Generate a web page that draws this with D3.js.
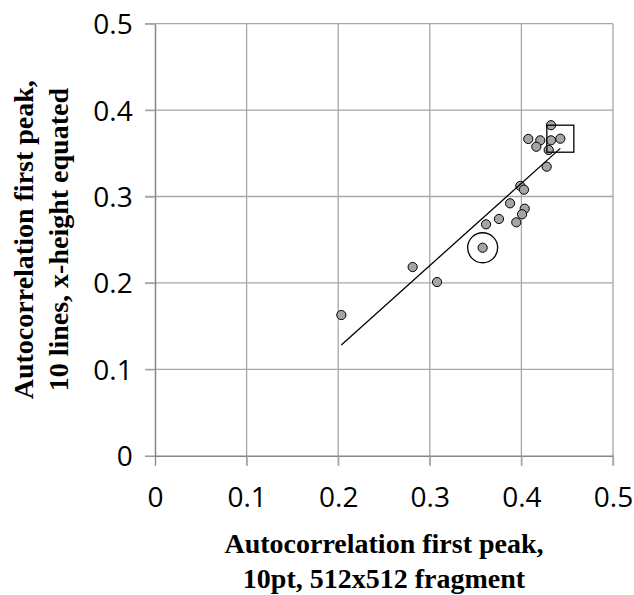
<!DOCTYPE html>
<html>
<head>
<meta charset="utf-8">
<script src="https://cdn.jsdelivr.net/npm/d3@7"></script>
<style>
  html, body { margin: 0; padding: 0; background: #fff; }
  svg { display: block; }
</style>
</head>
<body>
<svg id="chart" width="634" height="595"></svg>
<script>
// ---- data ----
const xValues = [0.4323, 0.4075, 0.4206, 0.4163, 0.4323, 0.4425, 0.4298, 0.4276, 0.3988, 0.4028,
                 0.3876, 0.4036, 0.4007, 0.3755, 0.3944, 0.3614, 0.3577, 0.2813, 0.3079, 0.2034];
const yValues = [0.3825, 0.3666, 0.3650, 0.3576, 0.3650, 0.3669, 0.3538, 0.3345, 0.3122, 0.3079,
                 0.2921, 0.2859, 0.2794, 0.2740, 0.2701, 0.2678, 0.2407, 0.2184, 0.2010, 0.1628];
const xTicks = [0, 0.1, 0.2, 0.3, 0.4, 0.5];
const yTicks = [0, 0.1, 0.2, 0.3, 0.4, 0.5];
const xTickLabels = ["0", "0.1", "0.2", "0.3", "0.4", "0.5"];
const yTickLabels = ["0", "0.1", "0.2", "0.3", "0.4", "0.5"];
const xTitle = ["Autocorrelation first peak,", "10pt, 512x512 fragment"];
const yTitle = ["Autocorrelation first peak,", "10 lines, x-height equated"];
const circledIndex = 16;   // point highlighted by a ring
const squaredIndex = 5;    // point highlighted by a square

// ---- layout ----
const svg = d3.select("#chart");
const pLeft = 155, pRight = 613, pTop = 23.7, pBottom = 455.7;
const x = d3.scaleLinear().domain([0, 0.5]).range([pLeft, pRight]);
const y = d3.scaleLinear().domain([0, 0.5]).range([pBottom, pTop]);

const gridColor = "#a6a6a6", axisColor = "#868686";
const tickFont = "'Open Sans', sans-serif";
const titleFont = "'Liberation Serif', 'Times New Roman', serif";

// gridlines
svg.append("g").selectAll("line").data(xTicks.filter(d => d > 0)).join("line")
  .attr("x1", d => x(d)).attr("x2", d => x(d))
  .attr("y1", pTop).attr("y2", pBottom + 10)
  .attr("stroke", gridColor).attr("stroke-width", 1.3);
svg.append("g").selectAll("line").data(yTicks.filter(d => d > 0)).join("line")
  .attr("x1", pLeft - 10).attr("x2", pRight)
  .attr("y1", d => y(d)).attr("y2", d => y(d))
  .attr("stroke", gridColor).attr("stroke-width", 1.3);

// axes
const xAxis = d3.axisBottom(x).tickValues(xTicks).tickSize(10).tickSizeOuter(0)
  .tickFormat((d, i) => xTickLabels[i]);
const gx = svg.append("g").attr("transform", `translate(0,${pBottom})`).call(xAxis);
gx.select(".domain").attr("stroke", axisColor).attr("stroke-width", 1.5);
gx.selectAll(".tick line").attr("stroke", (d) => d === 0 ? axisColor : gridColor).attr("stroke-width", 1.3);
gx.selectAll(".tick text").attr("y", 51).attr("dy", 0)
  .style("font-family", tickFont).style("font-size", "28px").attr("fill", "#000");

const yAxis = d3.axisLeft(y).tickValues(yTicks).tickSize(10).tickPadding(12.3).tickSizeOuter(0)
  .tickFormat((d, i) => yTickLabels[i]);
const gy = svg.append("g").attr("transform", `translate(${pLeft},0)`).call(yAxis);
gy.select(".domain").attr("stroke", axisColor).attr("stroke-width", 1.5);
gy.selectAll(".tick line").attr("stroke", (d) => d === 0 ? axisColor : gridColor).attr("stroke-width", 1.3);
gy.selectAll(".tick text").attr("dy", "0.36em")
  .style("font-family", tickFont).style("font-size", "28px").attr("fill", "#000");

// points
const pts = xValues.map((v, i) => ({ x: v, y: yValues[i] }));
svg.append("g").selectAll("circle").data(pts).join("circle")
  .attr("cx", d => x(d.x)).attr("cy", d => y(d.y)).attr("r", 4.6)
  .attr("fill", "#a5a5a5").attr("stroke", "#000").attr("stroke-width", 1);

// linear trendline (least squares)
const mx = d3.mean(xValues), my = d3.mean(yValues);
const slope = d3.sum(pts, d => (d.x - mx) * (d.y - my)) / d3.sum(pts, d => (d.x - mx) ** 2);
const icpt = my - slope * mx;
const [x0, x1] = d3.extent(xValues);
svg.append("line")
  .attr("x1", x(x0)).attr("y1", y(icpt + slope * x0))
  .attr("x2", x(x1)).attr("y2", y(icpt + slope * x1))
  .attr("stroke", "#000").attr("stroke-width", 1.3);

// highlights
svg.append("circle")
  .attr("cx", x(pts[circledIndex].x)).attr("cy", y(pts[circledIndex].y)).attr("r", 15)
  .attr("fill", "none").attr("stroke", "#000").attr("stroke-width", 1.3);
svg.append("rect")
  .attr("x", x(pts[squaredIndex].x) - 13.5).attr("y", y(pts[squaredIndex].y) - 13.5)
  .attr("width", 27).attr("height", 27)
  .attr("fill", "none").attr("stroke", "#000").attr("stroke-width", 1.3);

// titles
const xt = svg.append("text").attr("text-anchor", "middle")
  .style("font-family", titleFont).style("font-weight", "bold").style("font-size", "28px");
xt.selectAll("tspan").data(xTitle).join("tspan")
  .attr("x", (pLeft + pRight) / 2).attr("y", (d, i) => 553 + i * 35).text(d => d);

const yt = svg.append("text").attr("text-anchor", "middle")
  .attr("transform", `translate(33,${(pTop + pBottom) / 2}) rotate(-90)`)
  .style("font-family", titleFont).style("font-weight", "bold").style("font-size", "28px");
yt.selectAll("tspan").data(yTitle).join("tspan")
  .attr("x", 0).attr("y", (d, i) => i * 34.5).text(d => d);
</script>
</body>
</html>
